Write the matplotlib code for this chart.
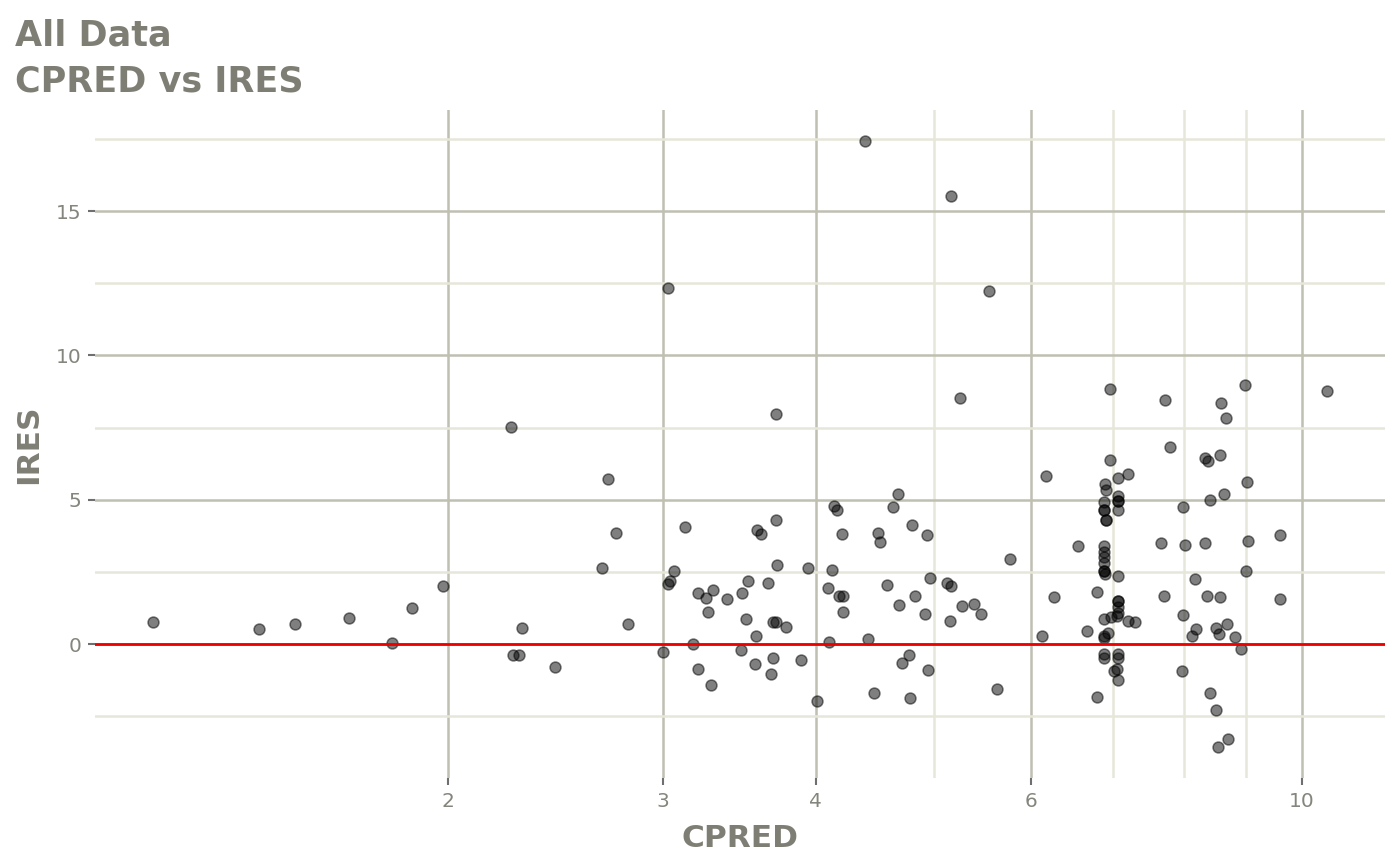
import matplotlib
matplotlib.use("Agg")
import matplotlib.pyplot as plt
from matplotlib.ticker import NullFormatter, FixedLocator

# ---- data (CPRED, IRES) ----
cpred = [
    1.147, 1.40, 1.50, 1.66, 1.80, 1.87, 1.98,
    2.253, 2.702, 2.744, 2.672, 2.298, 2.259, 2.287, 2.446, 2.806, 2.999,
    3.06, 3.04, 3.03, 3.126, 3.205, 3.254, 3.293, 3.267, 3.381, 3.478, 3.52,
    3.657, 3.715, 3.94, 3.71, 3.58, 3.61, 3.714, 3.51, 3.69, 3.71, 3.784,
    3.572, 3.174, 3.477, 3.687, 3.893, 3.57, 3.676, 3.205, 3.281, 4.01, 4.10,
    4.14, 4.166, 4.202, 4.126, 4.09, 4.18, 4.21, 4.206, 3.028,
    4.673, 4.627, 4.792, 4.93, 4.493, 4.518, 5.768, 4.958, 4.576, 5.125,
    5.164, 4.82, 4.676, 4.91, 5.27, 5.39, 5.46, 5.147, 4.409, 4.77, 4.708,
    4.945, 5.625, 4.461, 4.773, 6.125,
    4.39, 5.157, 5.544, 5.25,
    6.966, 6.174, 6.966, 7.068, 7.207, 6.90, 6.91, 7.07, 7.07, 7.07, 6.89,
    6.89, 6.91, 6.556, 6.89, 6.89, 6.89, 6.89, 6.89, 6.90, 7.07, 6.80, 6.26,
    7.07, 7.07, 7.07, 7.06, 6.89, 6.97, 7.20, 7.30, 6.67, 6.93, 6.89, 6.88,
    6.89, 6.89, 7.07, 7.07, 7.06, 7.02, 7.07, 6.80,
    6.89, 6.91, 6.89, 7.07, 7.07,
    7.72, 8.98, 8.58, 8.66, 10.47, 7.80, 8.33, 8.37, 8.56, 9.01, 8.63, 8.41,
    7.99, 7.67, 8.02, 8.32, 9.03, 9.60, 8.99, 8.17, 7.71, 8.36, 8.57, 9.60,
    7.99, 8.18, 8.13, 8.50, 8.55, 8.68, 8.81, 8.91, 7.98, 8.41, 8.50, 8.70,
    8.53,
]
ires = [
    0.76, 0.52, 0.69, 0.90, 0.03, 1.25, 2.01,
    7.53, 5.73, 3.85, 2.62, 0.54, -0.39, -0.37, -0.78, 0.70, -0.27,
    2.54, 2.18, 2.08, 4.04, 1.78, 1.60, 1.87, 1.11, 1.55, 1.78, 2.18,
    2.10, 2.73, 2.65, 4.29, 3.96, 3.81, 7.97, 0.87, 0.75, 0.75, 0.58,
    0.28, -0.01, -0.21, -0.48, -0.55, -0.70, -1.04, -0.88, -1.42, -1.96, 0.07,
    4.79, 4.64, 3.81, 2.56, 1.93, 1.66, 1.66, 1.10, 12.32,
    5.19, 4.75, 4.12, 3.77, 3.86, 3.53, 2.94, 2.28, 2.05, 2.10,
    2.00, 1.68, 1.37, 1.04, 1.31, 1.39, 1.04, 0.80, 0.18, -0.37, -0.67,
    -0.89, -1.57, -1.71, -1.87, 0.27,
    17.44, 15.51, 12.22, 8.52,
    8.85, 5.81, 6.36, 5.74, 5.88, 5.56, 5.35, 5.14, 4.95, 4.65, 4.92,
    4.64, 4.30, 3.38, 3.38, 3.18, 3.01, 2.82, 2.52, 2.42, 2.35, 1.82, 1.64,
    1.50, 1.28, 1.08, 0.96, 0.87, 0.95, 0.81, 0.76, 0.45, 0.38, 0.27, 0.20,
    -0.36, -0.50, -0.34, -0.47, -0.85, -0.93, -1.25, -1.83,
    4.64, 4.30, 2.52, 1.50, 4.95,
    8.44, 8.96, 8.36, 7.84, 8.77, 6.83, 6.45, 6.34, 6.54, 5.60, 5.20, 4.99,
    4.74, 3.51, 3.43, 3.51, 3.56, 3.77, 2.54, 2.27, 1.66, 1.67, 1.64, 1.55,
    0.99, 0.51, 0.29, 0.54, 0.34, 0.68, 0.25, -0.16, -0.92, -1.71, -2.28, -3.28,
    -3.58,
]

x_major = [2, 3, 4, 6, 10]
x_major_labels = ["2", "3", "4", "6", "10"]
x_minor = [5, 7, 8, 9]
y_major = [0, 5, 10, 15]
y_major_labels = ["0", "5", "10", "15"]
y_minor = [-2.5, 2.5, 7.5, 12.5, 17.5]
ref_line = 0

title_lines = ["All Data", "CPRED vs IRES"]
x_title = "CPRED"
y_title = "IRES"

# ---- styling ----
W, H = 1400, 865
fig = plt.figure(figsize=(W / 100, H / 100), dpi=100)
ax = fig.add_axes([95 / W, 1 - 778 / H, (1385 - 95) / W, (778 - 110) / H])

text_col = "#7e7e74"
tick_col = "#85857d"
major_grid = "#bfbfb2"
minor_grid = "#e6e6da"

ax.set_xscale("log")
ax.set_xlim(1.0284, 11.69)
ax.set_ylim(-4.64, 18.50)

ax.xaxis.set_major_locator(FixedLocator(x_major))
ax.xaxis.set_minor_locator(FixedLocator(x_minor))
ax.set_xticklabels(x_major_labels)
ax.xaxis.set_minor_formatter(NullFormatter())
ax.yaxis.set_major_locator(FixedLocator(y_major))
ax.yaxis.set_minor_locator(FixedLocator(y_minor))
ax.set_yticklabels(y_major_labels)

for s in ax.spines.values():
    s.set_visible(False)

ax.grid(which="major", color=major_grid, linewidth=1.8)
ax.grid(which="minor", color=minor_grid, linewidth=1.8)
ax.set_axisbelow(True)

ax.tick_params(which="major", length=5, width=1.5, color="#6f6f6f",
               labelcolor=tick_col, labelsize=14.5, pad=5)
ax.tick_params(which="minor", length=0)

ax.scatter(cpred, ires, s=62, facecolor="black", edgecolor="black",
           linewidths=1.1, alpha=0.5, zorder=2)
ax.axhline(ref_line, color="#ee0000", linewidth=2.0, zorder=3)

ax.set_xlabel(x_title, fontsize=22.5, fontweight="bold", color=text_col, va="baseline")
ax.xaxis.set_label_coords(0.5, (778 - 847) / 668)
ax.set_ylabel(y_title, fontsize=22.5, fontweight="bold", color=text_col, va="center")
ax.yaxis.set_label_coords((29 - 95) / 1290, 0.5)

fig.text(15 / W, 1 - 45 / H, title_lines[0], fontsize=25.2, fontweight="bold",
         color=text_col, ha="left", va="baseline")
fig.text(15 / W, 1 - 92 / H, title_lines[1], fontsize=25.2, fontweight="bold",
         color=text_col, ha="left", va="baseline")

fig.savefig("out.png", dpi=100, facecolor="white")
